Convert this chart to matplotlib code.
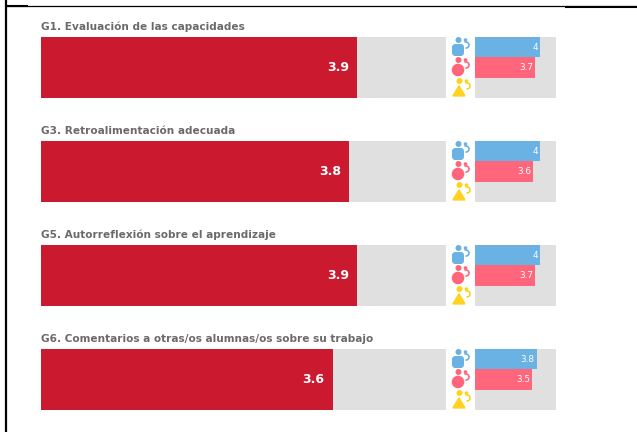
import matplotlib
matplotlib.use('Agg')
import matplotlib.pyplot as plt
from matplotlib.patches import Circle, Polygon, FancyBboxPatch, Arc

titles = ['G1. Evaluación de las capacidades',
          'G3. Retroalimentación adecuada',
          'G5. Autorreflexión sobre el aprendizaje',
          'G6. Comentarios a otras/os alumnas/os sobre su trabajo']
total = [3.9, 3.8, 3.9, 3.6]
boys = [4, 4, 4, 3.8]
girls = [3.7, 3.6, 3.7, 3.5]
labels_boys = ['4', '4', '4', '3.8']

W, H = 637, 432
RED = '#cb1a30'
BLUE = '#6bb2e4'
PINK = '#ff667c'
YELLOW = '#ffd21f'
GREY = '#e0e0e0'
TITLE = '#6a6a6a'
tops = [37, 141, 245, 349]

plt.rcParams['font.family'] = ['DejaVu Sans']
fig = plt.figure(figsize=(W / 100, H / 100), dpi=100)


def px_axes(x0, y0, w, h):
    return fig.add_axes([x0 / W, 1 - (y0 + h) / H, w / W, h / H])


# pixel overlay for frame lines and icons
bg = fig.add_axes([0, 0, 1, 1])
bg.set_xlim(0, W)
bg.set_ylim(H, 0)
bg.axis('off')
bg.plot([6, 6], [0, H], color='black', lw=1.6, solid_capstyle='butt')
bg.plot([6, W], [6, 6], color='black', lw=0.9, solid_capstyle='butt')
bg.plot([6, 28], [6, 6], color='black', lw=1.5, solid_capstyle='butt')
bg.plot([565, W], [6.5, 6.5], color='black', lw=1.5, solid_capstyle='butt')


def icon(cx, cy, color, kind):
    # cy is the middle of the body shape
    if kind == 'square':
        bg.add_patch(FancyBboxPatch((cx - 6, cy - 6), 12, 12, boxstyle='round,pad=0,rounding_size=3.5',
                                    fc=color, ec='none'))
    elif kind == 'circle':
        bg.add_patch(Circle((cx, cy), 6.3, fc=color, ec='none'))
    else:
        bg.add_patch(Polygon([(cx - 5.8, cy + 4.8), (cx + 5.8, cy + 4.8), (cx, cy - 5)], closed=True,
                             fc=color, ec=color, lw=1.2, joinstyle='round'))
    bg.add_patch(Circle((cx + 0.5, cy - 10), 3, fc=color, ec='none'))
    bg.add_patch(Circle((cx + 7.5, cy - 10), 1.8, fc=color, ec='none'))
    bg.add_patch(Arc((cx + 8, cy - 5), 6, 6, theta1=-120, theta2=100, color=color, lw=1.2))


for i in range(len(titles)):
    top = tops[i]
    bg.text(41, top - 10, titles[i], fontsize=7.55, fontweight='bold', color=TITLE, ha='left', va='center')

    ax = px_axes(41, top, 405, 61)
    ax.barh([0], [5], height=1, color=GREY)
    ax.barh([0], [total[i]], height=1, color=RED)
    ax.text(total[i] - 0.1, 0, str(total[i]), color='white', fontsize=9, fontweight='bold', ha='right', va='center')
    ax.set_xlim(0, 5)
    ax.set_ylim(-0.5, 0.5)
    ax.axis('off')

    ax2 = px_axes(475, top, 81, 61)
    ax2.barh([0, 1, 2], [5, 5, 5], height=1, color=GREY)
    ax2.barh([0], [boys[i]], height=1, color=BLUE)
    ax2.barh([1], [girls[i]], height=1, color=PINK)
    ax2.text(boys[i] - 0.1, 0, labels_boys[i], color='white', fontsize=6.4, ha='right', va='center')
    ax2.text(girls[i] - 0.1, 1, str(girls[i]), color='white', fontsize=6.4, ha='right', va='center')
    ax2.set_xlim(0, 5)
    ax2.set_ylim(2.5, -0.5)
    ax2.axis('off')

    icon(458, top + 13, BLUE, 'square')
    icon(458, top + 33, PINK, 'circle')
    icon(459, top + 54, YELLOW, 'triangle')

fig.savefig('out.png', dpi=100)
